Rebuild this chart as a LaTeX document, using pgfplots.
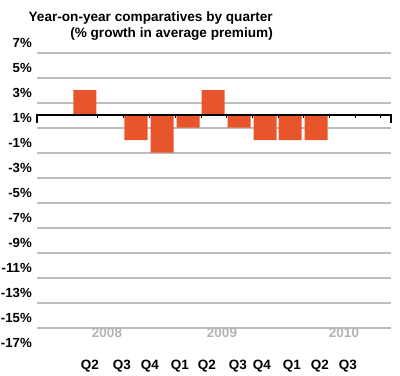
\documentclass[border=0pt]{standalone}
\usepackage{pgfplots}
\pgfplotsset{compat=1.18}
\usepackage{fontspec}
\setmainfont{Liberation Sans}
\definecolor{barc}{HTML}{E9552B}
\definecolor{gridc}{HTML}{BDBDBD}
\definecolor{yearc}{HTML}{B3B3B3}
\begin{document}
\begin{tikzpicture}
\begin{axis}[
 scale only axis, width=354pt, height=375pt,
 xmin=37, xmax=391, ymin=-20.8, ymax=9.2,
 clip=false,
 axis line style={draw=none},
 major tick length=0pt,
 ytick={5,3,1,-1,-3,-5,-7,-9,-11,-13,-15,-17},
 yticklabels={},
 ymajorgrids,
 grid style={gridc, line width=2pt},
 extra y ticks={5.76,3.76,1.76,-0.24,-2.24,-4.24,-6.24,-8.24,-10.24,-12.24,-14.24,-16.24,-18.24},
 extra y tick labels={7\%,5\%,3\%,1\%,-1\%,-3\%,-5\%,-7\%,-9\%,-11\%,-13\%,-15\%,-17\%},
 extra y tick style={grid=none, yticklabel style={anchor=east, inner sep=0pt, xshift=-5pt, font=\bfseries\fontsize{13.2}{15}\selectfont}},
 xtick={90,122,150,180,207,238,262,292,320,348},
 xticklabels={Q2,Q3,Q4,Q1,Q2,Q3,Q4,Q1,Q2,Q3},
 xticklabel style={font=\bfseries\fontsize{13.5}{15}\selectfont, inner sep=0pt, anchor=center, yshift=9pt},
 extra x ticks={107,222,344},
 extra x tick labels={2008,2009,2010},
 extra x tick style={xticklabel style={yearc, font=\bfseries\fontsize{13.5}{15}\selectfont, inner sep=0pt, anchor=center, yshift=33pt}},
]
\path (axis cs:0,-20.8) rectangle (axis cs:400,9.2);
\addplot[ybar, bar width=23pt, fill=barc, draw=none] coordinates {(85,2)(111,0)(136,-2)(162,-3)(188,-1)(213,2)(239,-1)(265,-2)(290,-2)(316,-2)(342,0)};
\draw[black, line width=1.5pt] (axis cs:37,-0.6) -- (axis cs:37,0) -- (axis cs:391,0) -- (axis cs:391,-0.6);
\pgfplotsinvokeforeach{98,124,149,175,201,226,252,278,303,329,355,380}{
  \draw[black, line width=1pt] (axis cs:#1,0) -- (axis cs:#1,-0.2);
}
\node[anchor=north east, align=right, inner sep=0pt, font=\bfseries\fontsize{13.6}{16}\selectfont] at (axis cs:273,8.3) {Year-on-year comparatives by quarter\\(\% growth in average premium)};
\end{axis}
\end{tikzpicture}
\end{document}
